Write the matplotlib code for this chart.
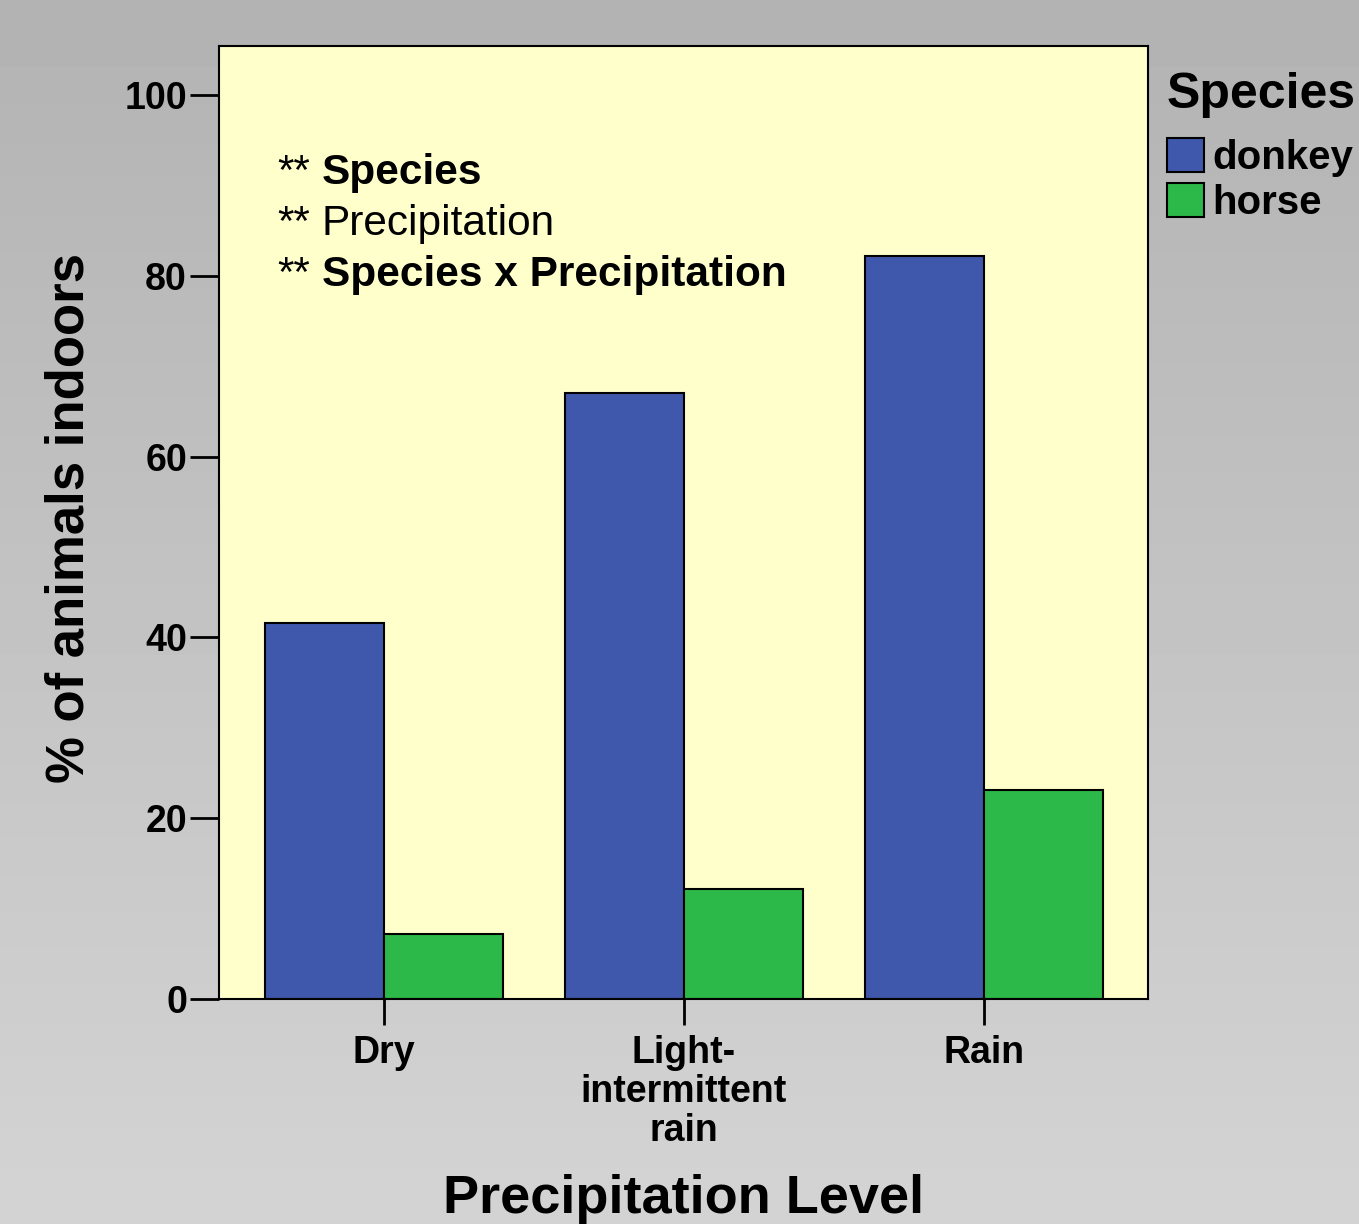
#!/usr/bin/env python3
"""Grouped bar chart: share of donkeys and horses kept indoors by precipitation level."""

import matplotlib
matplotlib.use("Agg")
import matplotlib.pyplot as plt
import numpy as np
from matplotlib.patches import Patch

# Data
levels = ["Dry", "Light-\nintermittent\nrain", "Rain"]
species = ["donkey", "horse"]
donkey_pct = [41.6, 67.0, 82.2]
horse_pct = [7.2, 12.2, 23.1]
y_ticks = [0, 20, 40, 60, 80, 100]
effects = [("**", "Species", "bold"),
           ("**", "Precipitation", "normal"),
           ("**", "Species x Precipitation", "bold")]

DONKEY = "#3f58ab"
HORSE = "#2db84a"
PANEL = "#ffffcb"

plt.rcParams["font.family"] = ["Liberation Sans", "DejaVu Sans"]

fig = plt.figure(figsize=(13.59, 12.24), dpi=100)

# grey gradient backdrop
bg = fig.add_axes([0, 0, 1, 1], zorder=-10)
grad = np.linspace(0.70, 0.83, 256).reshape(-1, 1)
bg.imshow(grad, aspect="auto", cmap="gray", vmin=0, vmax=1, origin="upper")
bg.axis("off")

ax = fig.add_axes([0.1611, 0.1838, 0.6836, 0.7786])
ax.set_facecolor(PANEL)

x = np.arange(len(levels))
width = 0.397
ax.bar(x - width / 2, donkey_pct, width, align="center", color=DONKEY,
       edgecolor="black", linewidth=1.5, label=species[0])
ax.bar(x + width / 2, horse_pct, width, align="center", color=HORSE,
       edgecolor="black", linewidth=1.5, label=species[1])

ax.set_xlim(-0.55, 2.547)
ax.set_ylim(0, 105.4)
ax.set_yticks(y_ticks)
ax.set_yticklabels([str(t) for t in y_ticks], fontsize=27, fontweight="bold")
ax.set_xticks(x)
ax.set_xticklabels(levels, fontsize=27, fontweight="bold", linespacing=1.1)
ax.tick_params(axis="y", length=21, width=2, pad=2)
ax.tick_params(axis="x", length=19, width=2, pad=7)

for s in ax.spines.values():
    s.set_linewidth(1.5)

ax.set_ylabel("% of animals indoors", fontsize=38, fontweight="bold")
ax.yaxis.set_label_coords(-0.134, 0.505)
ax.set_xlabel("Precipitation Level", fontsize=39, fontweight="bold")
ax.xaxis.set_label_coords(0.5, -0.184)

# significance notes
baselines = [0.8552, 0.8017, 0.7482]
for (stars, name, weight), yb in zip(effects, baselines):
    ax.text(0.0624, yb, stars, transform=ax.transAxes, fontsize=30.5,
            va="baseline", ha="left")
    ax.text(0.1109, yb, name, transform=ax.transAxes, fontsize=30.5,
            fontweight=weight, va="baseline", ha="left")

# legend: title drawn separately so the gap below it can be matched
fig.text(1167 / 1359, 1 - 108 / 1224, "Species", fontsize=36,
         fontweight="bold", ha="left", va="baseline")
handles = [Patch(facecolor=DONKEY, edgecolor="black", linewidth=1.5),
           Patch(facecolor=HORSE, edgecolor="black", linewidth=1.5)]
leg = fig.legend(handles, species, loc="upper left",
                 bbox_to_anchor=(1167 / 1359, 1 - 138 / 1224),
                 frameon=False, prop={"size": 29, "weight": "bold"},
                 handlelength=0.93, handleheight=0.93, handletextpad=0.2,
                 labelspacing=0.15, borderpad=0, borderaxespad=0)

fig.savefig("out.png", dpi=100)
